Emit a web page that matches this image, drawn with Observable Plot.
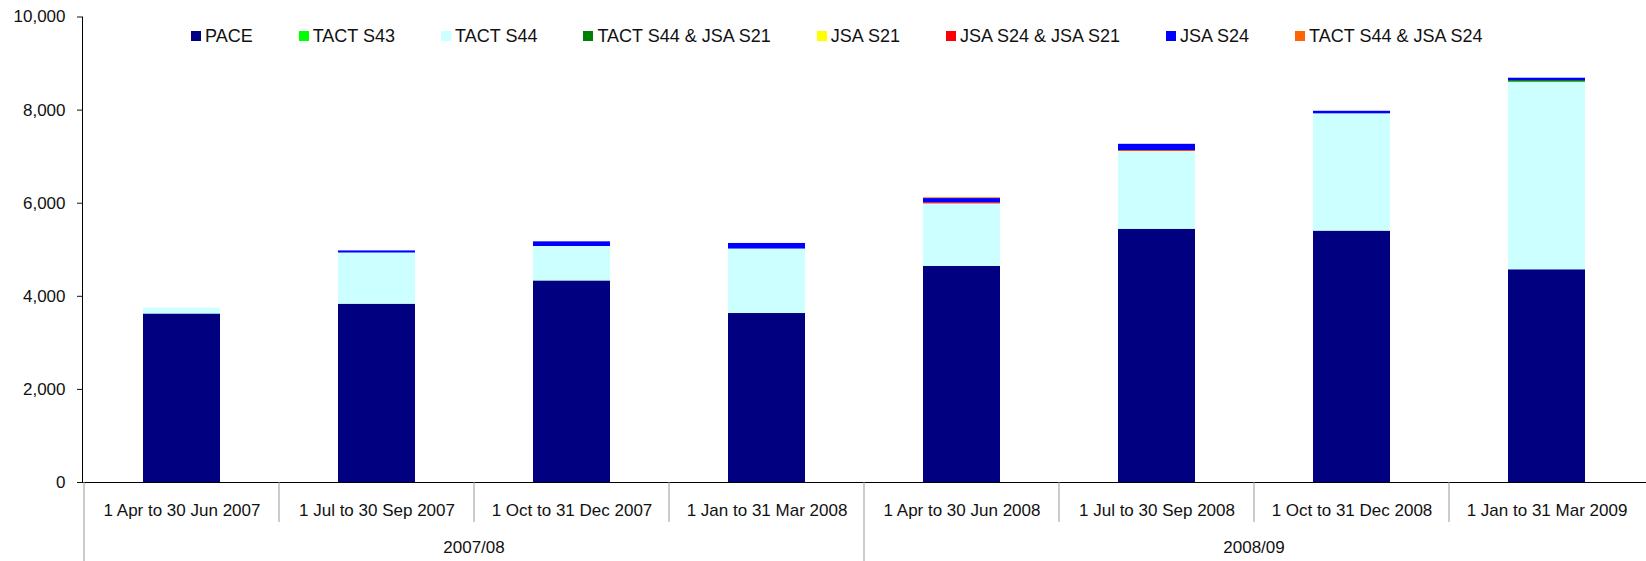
<!DOCTYPE html>
<html><head><meta charset="utf-8">
<script src="https://cdn.jsdelivr.net/npm/d3@7"></script>
<script src="https://cdn.jsdelivr.net/npm/@observablehq/plot@0.6"></script>
<style>
body{margin:0;background:#fff;font-family:"Liberation Sans",Arial,sans-serif;}
#wrap{position:relative;width:1646px;height:561px;}
#legend{position:absolute;top:26px;left:191px;display:flex;gap:46px;font-size:18px;color:#111;line-height:20px;}
.item{display:flex;align-items:center;white-space:nowrap}
.sw{width:10px;height:10px;margin-right:4px;}
</style></head><body><div id="wrap"><div id="legend"></div></div>
<script>
const quarters = ["1 Apr to 30 Jun 2007","1 Jul to 30 Sep 2007","1 Oct to 31 Dec 2007","1 Jan to 31 Mar 2008",
                  "1 Apr to 30 Jun 2008","1 Jul to 30 Sep 2008","1 Oct to 31 Dec 2008","1 Jan to 31 Mar 2009"];
const years = ["2007/08","2007/08","2007/08","2007/08","2008/09","2008/09","2008/09","2008/09"];
const seriesNames = ["PACE","TACT S43","TACT S44","TACT S44 & JSA S21","JSA S21","JSA S24 & JSA S21","JSA S24","TACT S44 & JSA S24"];
const seriesColors = ["#000080","#00ff00","#ccffff","#008000","#ffff00","#ff0000","#0000ff","#ff6600"];
const PACE        = [3620, 3830, 4330, 3630, 4640, 5440, 5400, 4570];
const TACT_S43    = [0, 0, 0, 0, 0, 0, 0, 0];
const TACT_S44    = [125, 1100, 740, 1385, 1345, 1665, 2520, 4030];
const TACT_S44_S21= [0, 0, 0, 0, 0, 0, 0, 35];
const JSA_S21     = [0, 0, 0, 0, 0, 10, 0, 0];
const JSA_S24_S21 = [0, 0, 0, 0, 25, 15, 0, 0];
const JSA_S24     = [0, 45, 100, 120, 90, 135, 55, 50];
const TACT_S44_S24= [0, 0, 0, 0, 15, 0, 0, 0];
const yTicks = [0, 2000, 4000, 6000, 8000, 10000];

const seriesValues = [PACE, TACT_S43, TACT_S44, TACT_S44_S21, JSA_S21, JSA_S24_S21, JSA_S24, TACT_S44_S24];
const rows = [];
quarters.forEach((q, i) => seriesNames.forEach((s, j) => rows.push({quarter: q, year: years[i], series: s, value: seriesValues[j][i]})));

const chart = Plot.plot({
  width: 1646, height: 561,
  marginTop: 16.5, marginBottom: 79, marginLeft: 82, marginRight: 0,
  style: {fontFamily: "'Liberation Sans', Arial, sans-serif", fontSize: "17px", background: "white", color: "#111"},
  x: {domain: quarters, paddingInner: 0.606, paddingOuter: 0.303, label: null},
  y: {domain: [0, 10000], label: null},
  color: {domain: seriesNames, range: seriesColors},
  marks: [
    Plot.barY(rows, Plot.stackY({x: "quarter", y: "value", fill: "series", order: seriesNames})),
    Plot.ruleY([0], {stroke: "#000", strokeWidth: 1.2}),
    Plot.frame({anchor: "left", stroke: "#000"}),
    Plot.axisY({ticks: yTicks, tickSize: 5, tickPadding: 12, fontSize: 17, tickFormat: d3.format(","), label: null}),
    Plot.axisX({tickSize: 0, tickPadding: 21, fontSize: 17, label: null})
  ]
});
document.getElementById("wrap").appendChild(chart);

// category dividers and year group labels, positioned with the plot's own scales
const xs = chart.scale("x"), ys = chart.scale("y");
const centers = quarters.map(q => xs.apply(q) + xs.bandwidth / 2);
const step = centers[1] - centers[0];
const y0 = ys.apply(0);
const g = d3.select(chart).append("g");
quarters.forEach((q, i) => {
  const xv = centers[i] - step / 2;
  const yearBreak = i === 0 || years[i] !== years[i - 1];
  g.append("line").attr("x1", xv).attr("x2", xv).attr("y1", y0).attr("y2", yearBreak ? 561 : y0 + 40)
    .attr("stroke", "#999").attr("stroke-width", 1);
});
const uniqYears = [...new Set(years)];
uniqYears.forEach(yr => {
  const cs = centers.filter((c, i) => years[i] === yr);
  g.append("text").attr("x", d3.mean(cs)).attr("y", y0 + 65).attr("dy", "0.35em")
    .attr("text-anchor", "middle").attr("font-size", 17).attr("fill", "#111").text(yr);
});

// legend
const lg = d3.select("#legend");
seriesNames.forEach((s, j) => {
  const it = lg.append("div").attr("class", "item");
  it.append("div").attr("class", "sw").style("background", seriesColors[j]);
  it.append("span").text(s);
});
</script>
</body></html>
